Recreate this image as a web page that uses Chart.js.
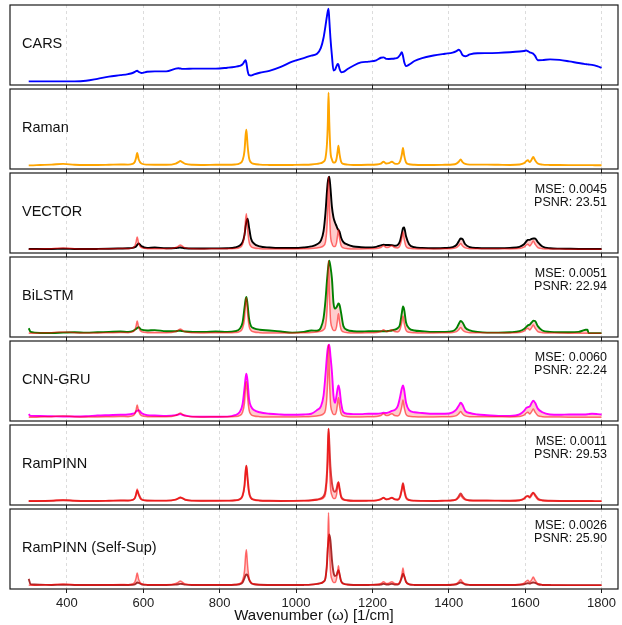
<!DOCTYPE html>
<html>
<head>
<meta charset="utf-8">
<script src="https://cdn.jsdelivr.net/npm/chart.js@4.4.1/dist/chart.umd.min.js"></script>
<style>
  html, body { margin: 0; padding: 0; background: #fff; }
  #fig { position: relative; width: 622px; height: 625px; overflow: hidden; }
  #fig canvas { position: absolute; left: 0; }
</style>
</head>
<body>
<div id="fig"></div>
<script>
// shared wavenumber grid (1/cm), denser around the bands
const wavenumber = [
  300, 305, 330, 360, 390, 420, 450, 480, 510, 540,
  560, 572, 578, 581, 584, 588, 595, 610, 630, 660,
  685, 692, 697, 702, 710, 730, 760, 790, 820, 840,
  852, 860, 865, 868, 870, 873, 877, 882, 890, 905,
  930, 960, 990, 1020, 1040, 1055, 1065, 1072, 1077, 1081,
  1083, 1085, 1087, 1090, 1094, 1098, 1102, 1106, 1109, 1111,
  1114, 1118, 1124, 1135, 1150, 1170, 1190, 1210, 1222, 1229,
  1236, 1243, 1251, 1258, 1266, 1272, 1277, 1280, 1283, 1288,
  1296, 1310, 1330, 1360, 1390, 1410, 1420, 1426, 1431, 1436,
  1443, 1455, 1475, 1500, 1530, 1560, 1585, 1597, 1603, 1607,
  1612, 1617, 1621, 1626, 1633, 1645, 1665, 1690, 1715, 1740,
  1752, 1758, 1763, 1766, 1775, 1790, 1800
];

const cars = [
  0, 0, 0, 0, 0, 0, 0.008, 0.035, 0.065, 0.085,
  0.10, 0.115, 0.13, 0.14, 0.145, 0.13, 0.116, 0.132, 0.138, 0.138,
  0.175, 0.18, 0.176, 0.172, 0.172, 0.175, 0.175, 0.175, 0.188, 0.2,
  0.212, 0.235, 0.275, 0.29, 0.25, 0.15, 0.085, 0.08, 0.095, 0.118,
  0.145, 0.2, 0.27, 0.32, 0.355, 0.38, 0.46, 0.6, 0.76, 0.9,
  0.96, 1.0, 0.85, 0.6, 0.35, 0.15, 0.16, 0.21, 0.24, 0.23,
  0.17, 0.125, 0.13, 0.17, 0.215, 0.26, 0.272, 0.29, 0.325, 0.33,
  0.31, 0.308, 0.31, 0.315, 0.325, 0.36, 0.4, 0.35, 0.27, 0.21,
  0.23, 0.28, 0.32, 0.355, 0.38, 0.395, 0.415, 0.434, 0.41, 0.36,
  0.345, 0.37, 0.387, 0.388, 0.392, 0.4, 0.41, 0.418, 0.424, 0.415,
  0.40, 0.39, 0.38, 0.35, 0.29, 0.292, 0.302, 0.295, 0.275, 0.252,
  0.242, 0.237, 0.234, 0.232, 0.227, 0.205, 0.185
];

// ground truth Raman, also the reference line in every model panel
const raman = [
  0, 0, 0.005, 0.01, 0.02, 0.008, 0.005, 0.005, 0.008, 0.012,
  0.01, 0.02, 0.05, 0.1, 0.17, 0.08, 0.025, 0.01, 0.008, 0.008,
  0.025, 0.045, 0.06, 0.045, 0.02, 0.008, 0.006, 0.008, 0.008, 0.012,
  0.025, 0.07, 0.2, 0.42, 0.49, 0.28, 0.1, 0.04, 0.02, 0.01,
  0.006, 0.005, 0.006, 0.008, 0.012, 0.02, 0.03, 0.05, 0.1, 0.3,
  0.55, 1.0, 0.6, 0.2, 0.08, 0.04, 0.04, 0.09, 0.2, 0.27,
  0.15, 0.05, 0.02, 0.01, 0.006, 0.006, 0.008, 0.012, 0.025, 0.05,
  0.025, 0.03, 0.05, 0.025, 0.02, 0.05, 0.15, 0.24, 0.14, 0.04,
  0.015, 0.008, 0.005, 0.005, 0.008, 0.012, 0.025, 0.05, 0.08, 0.045,
  0.02, 0.01, 0.01, 0.01, 0.008, 0.006, 0.012, 0.03, 0.06, 0.07,
  0.045, 0.08, 0.115, 0.07, 0.025, 0.01, 0.006, 0.004, 0.003, 0.003,
  0.003, 0.003, 0.003, 0.003, 0.003, 0.002, 0.002
];

const vector = [
  0.005, 0.005, 0.005, 0.005, 0.008, 0.006, 0.005, 0.006, 0.008, 0.012,
  0.015, 0.02, 0.03, 0.04, 0.06, 0.08, 0.045, 0.02, 0.025, 0.015,
  0.018, 0.022, 0.025, 0.022, 0.015, 0.012, 0.012, 0.014, 0.016, 0.025,
  0.05, 0.1, 0.2, 0.32, 0.38, 0.42, 0.3, 0.15, 0.08, 0.04,
  0.025, 0.018, 0.018, 0.025, 0.04, 0.07, 0.12, 0.25, 0.5, 0.8,
  0.92, 0.98, 1.0, 0.85, 0.58, 0.44, 0.37, 0.32, 0.28, 0.27,
  0.24, 0.16, 0.1, 0.065, 0.04, 0.03, 0.025, 0.035, 0.055, 0.065,
  0.06, 0.06, 0.058, 0.05, 0.06, 0.11, 0.22, 0.29, 0.3, 0.18,
  0.07, 0.03, 0.02, 0.015, 0.018, 0.03, 0.06, 0.11, 0.15, 0.14,
  0.07, 0.03, 0.018, 0.015, 0.015, 0.02, 0.035, 0.07, 0.11, 0.13,
  0.13, 0.145, 0.15, 0.15, 0.1, 0.04, 0.015, 0.01, 0.008, 0.006,
  0.005, 0.005, 0.005, 0.005, 0.005, 0.005, 0.005
];

const bilstm = [
  0.07, 0.02, 0.005, 0.005, 0.01, 0.015, 0.01, 0.015, 0.02, 0.025,
  0.02, 0.03, 0.05, 0.06, 0.075, 0.085, 0.05, 0.04, 0.045, 0.03,
  0.03, 0.035, 0.035, 0.03, 0.025, 0.02, 0.02, 0.025, 0.02, 0.03,
  0.06, 0.15, 0.35, 0.47, 0.5, 0.4, 0.2, 0.1, 0.07, 0.05,
  0.04, 0.025, 0.01, 0.02, 0.04, 0.035, 0.08, 0.21, 0.45, 0.73,
  0.85, 0.95, 1.0, 0.92, 0.75, 0.42, 0.34, 0.36, 0.39, 0.41,
  0.39, 0.28, 0.1, 0.045, 0.03, 0.025, 0.03, 0.03, 0.03, 0.03,
  0.03, 0.035, 0.04, 0.05, 0.07, 0.12, 0.28, 0.37, 0.33, 0.15,
  0.07, 0.04, 0.03, 0.02, 0.02, 0.03, 0.07, 0.13, 0.17, 0.15,
  0.08, 0.04, 0.02, 0.01, 0.01, 0.015, 0.03, 0.06, 0.09, 0.11,
  0.12, 0.15, 0.175, 0.17, 0.1, 0.04, 0.02, 0.015, 0.015, 0.02,
  0.04, 0.05, 0.05, 0.005, 0.003, 0.003, 0.003
];

const cnnGru = [
  0.045, 0.02, 0.018, 0.015, 0.012, 0.012, 0.015, 0.025, 0.03, 0.035,
  0.04, 0.05, 0.06, 0.08, 0.09, 0.1, 0.06, 0.03, 0.025, 0.02,
  0.03, 0.04, 0.045, 0.035, 0.025, 0.01, 0.008, 0.008, 0.01, 0.03,
  0.07, 0.18, 0.4, 0.55, 0.6, 0.5, 0.25, 0.15, 0.1, 0.07,
  0.05, 0.04, 0.035, 0.04, 0.05, 0.1, 0.15, 0.3, 0.58, 0.85,
  0.95, 0.99, 1.0, 0.85, 0.62, 0.3, 0.2, 0.3, 0.4, 0.44,
  0.38, 0.2, 0.07, 0.05, 0.045, 0.045, 0.05, 0.05, 0.055, 0.065,
  0.06, 0.07, 0.09, 0.1, 0.15, 0.27, 0.4, 0.44, 0.38, 0.2,
  0.1, 0.07, 0.06, 0.05, 0.05, 0.07, 0.11, 0.16, 0.2, 0.17,
  0.09, 0.06, 0.04, 0.03, 0.02, 0.02, 0.04, 0.09, 0.13, 0.14,
  0.15, 0.2, 0.23, 0.2, 0.12, 0.07, 0.04, 0.035, 0.04, 0.04,
  0.04, 0.04, 0.042, 0.045, 0.05, 0.045, 0.04
];

const ramPinn = [
  0.005, 0.005, 0.005, 0.008, 0.015, 0.008, 0.005, 0.005, 0.008, 0.012,
  0.012, 0.02, 0.045, 0.09, 0.15, 0.1, 0.03, 0.012, 0.01, 0.01,
  0.025, 0.04, 0.05, 0.045, 0.022, 0.01, 0.008, 0.008, 0.01, 0.015,
  0.03, 0.08, 0.22, 0.42, 0.49, 0.33, 0.13, 0.05, 0.025, 0.012,
  0.008, 0.006, 0.007, 0.01, 0.015, 0.025, 0.04, 0.07, 0.15, 0.4,
  0.7, 1.0, 0.82, 0.48, 0.25, 0.15, 0.13, 0.17, 0.24, 0.26,
  0.18, 0.07, 0.03, 0.015, 0.008, 0.008, 0.01, 0.014, 0.03, 0.05,
  0.03, 0.035, 0.05, 0.03, 0.025, 0.06, 0.17, 0.25, 0.17, 0.06,
  0.02, 0.01, 0.007, 0.006, 0.01, 0.015, 0.03, 0.07, 0.11, 0.07,
  0.03, 0.015, 0.012, 0.012, 0.01, 0.008, 0.015, 0.04, 0.07, 0.075,
  0.06, 0.1, 0.12, 0.09, 0.04, 0.015, 0.008, 0.005, 0.004, 0.004,
  0.004, 0.004, 0.004, 0.004, 0.004, 0.003, 0.003
];

const ramPinnSelfSup = [
  0.09, 0.015, 0.008, 0.006, 0.008, 0.005, 0.004, 0.004, 0.005, 0.006,
  0.006, 0.008, 0.015, 0.025, 0.04, 0.035, 0.015, 0.006, 0.005, 0.005,
  0.01, 0.015, 0.02, 0.018, 0.01, 0.005, 0.004, 0.005, 0.005, 0.008,
  0.015, 0.04, 0.1, 0.14, 0.15, 0.14, 0.08, 0.035, 0.015, 0.008,
  0.005, 0.004, 0.005, 0.006, 0.01, 0.02, 0.03, 0.05, 0.1, 0.3,
  0.5, 0.62, 0.7, 0.62, 0.35, 0.18, 0.13, 0.14, 0.19, 0.21,
  0.15, 0.06, 0.025, 0.012, 0.006, 0.005, 0.006, 0.008, 0.012, 0.02,
  0.012, 0.012, 0.02, 0.012, 0.012, 0.04, 0.11, 0.16, 0.13, 0.05,
  0.015, 0.006, 0.004, 0.004, 0.005, 0.008, 0.015, 0.03, 0.04, 0.03,
  0.012, 0.006, 0.005, 0.005, 0.005, 0.004, 0.008, 0.015, 0.025, 0.03,
  0.025, 0.035, 0.04, 0.035, 0.015, 0.006, 0.004, 0.003, 0.003, 0.003,
  0.003, 0.003, 0.003, 0.003, 0.003, 0.003, 0.003
];

const panelNames = ['CARS', 'Raman', 'VECTOR', 'BiLSTM', 'CNN-GRU', 'RamPINN', 'RamPINN (Self-Sup)'];
const mseValues = [null, null, '0.0045', '0.0051', '0.0060', '0.0011', '0.0026'];
const psnrValues = [null, null, '23.51', '22.94', '22.24', '29.53', '25.90'];
const xTickValues = [400, 600, 800, 1000, 1200, 1400, 1600, 1800];

[cars, raman, vector, bilstm, cnnGru, ramPinn, ramPinnSelfSup].forEach((s, i) => {
  if (s.length !== wavenumber.length) throw new Error('series ' + i + ' has ' + s.length + ' points');
});

const FONT = '"Liberation Sans", Arial, sans-serif';
const GT_LINE = 'rgba(255, 0, 0, 0.55)';
const GT_FILL = 'rgba(255, 0, 0, 0.2)';

const panels = [
  { series: cars, color: '#0000ff' },
  { series: raman, color: '#ffa500' },
  { series: vector, color: '#000000', compare: true },
  { series: bilstm, color: '#008000', compare: true },
  { series: cnnGru, color: '#ff00ff', compare: true },
  { series: ramPinn, color: 'rgba(214, 39, 40, 0.9)', compare: true },
  { series: ramPinnSelfSup, color: 'rgba(150, 10, 10, 0.85)', compare: true }
];

const toPoints = ys => wavenumber.map((x, i) => ({ x: x, y: ys[i] }));

// frame + panel label + metrics text
const panelDecor = {
  id: 'panelDecor',
  afterDraw(chart, args, opts) {
    const { ctx, chartArea: a } = chart;
    ctx.save();
    ctx.strokeStyle = '#1a1a1a';
    ctx.lineWidth = 1.2;
    ctx.strokeRect(a.left, a.top, a.right - a.left, a.bottom - a.top);
    ctx.fillStyle = '#111';
    ctx.font = '14.5px ' + FONT;
    ctx.textAlign = 'left';
    ctx.textBaseline = 'middle';
    ctx.fillText(opts.label, a.left + 12, a.top + 39);
    if (opts.mse) {
      ctx.font = '12.5px ' + FONT;
      ctx.textAlign = 'right';
      ctx.fillText('MSE: ' + opts.mse, a.right - 11, a.top + 17);
      ctx.fillText('PSNR: ' + opts.psnr, a.right - 11, a.top + 30);
    }
    ctx.restore();
  }
};

const fig = document.getElementById('fig');
const tops = [4, 88, 172, 256, 340, 424, 508];

panels.forEach((p, i) => {
  const last = i === panels.length - 1;
  const canvas = document.createElement('canvas');
  canvas.width = 622;
  canvas.height = last ? 117 : 86;
  canvas.style.top = tops[i] + 'px';
  fig.appendChild(canvas);

  let datasets;
  if (p.compare) {
    datasets = [
      { data: toPoints(raman), borderColor: GT_LINE, borderWidth: 1.5, fill: false },
      { data: toPoints(p.series), borderColor: p.color, borderWidth: 1.9,
        fill: { target: 0 }, backgroundColor: GT_FILL }
    ];
  } else {
    datasets = [{ data: toPoints(p.series), borderColor: p.color, borderWidth: 1.9, fill: false }];
  }

  // y range from the data with a 5% margin, like matplotlib
  const all = datasets.flatMap(d => d.data.map(pt => pt.y));
  const lo = Math.min(...all), hi = Math.max(...all);
  const pad = (hi - lo) * 0.05;

  new Chart(canvas, {
    type: 'line',
    data: { datasets: datasets },
    options: {
      responsive: false,
      animation: false,
      events: [],
      layout: { padding: { left: 10, right: 4, top: 1, bottom: 0 } },
      elements: {
        point: { radius: 0 },
        line: { cubicInterpolationMode: 'monotone' }
      },
      scales: {
        x: {
          type: 'linear',
          min: 251,
          max: 1843,
          afterBuildTicks: scale => { scale.ticks = xTickValues.map(v => ({ value: v })); },
          afterFit: scale => { scale.height = last ? 36 : 5; },
          grid: {
            color: '#d4d4d4',
            lineWidth: 0.8,
            tickColor: '#222',
            tickWidth: 1,
            tickLength: 4,
            tickBorderDash: []
          },
          border: { display: false, dash: [3, 3] },
          ticks: {
            display: last,
            padding: 2.5,
            color: '#222',
            font: { family: FONT, size: 13 },
            callback: v => String(v)
          },
          title: {
            display: last,
            text: 'Wavenumber (ω) [1/cm]',
            color: '#111',
            font: { family: FONT, size: 15 },
            padding: { top: 0, bottom: 0 }
          }
        },
        y: { display: false, min: lo - pad, max: hi + pad }
      },
      plugins: {
        legend: { display: false },
        tooltip: { enabled: false },
        panelDecor: { label: panelNames[i], mse: mseValues[i], psnr: psnrValues[i] }
      }
    },
    plugins: [panelDecor]
  });
});
</script>
</body>
</html>
